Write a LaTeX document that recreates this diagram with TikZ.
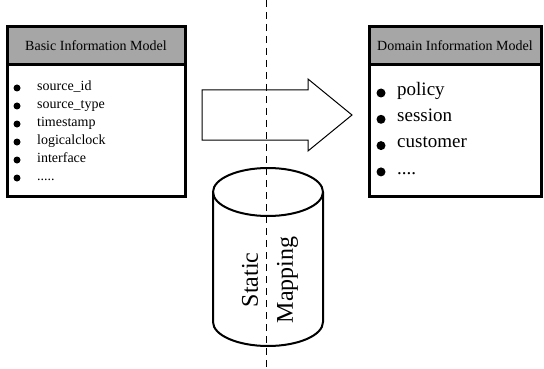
\documentclass[tikz,border=0pt]{standalone}
\usepackage{fontspec}
\setmainfont{Liberation Serif}
\usetikzlibrary{positioning}
\newcommand{\fivedots}{.....}
\newcommand{\fourdots}{....}

\begin{document}
\begin{tikzpicture}[x=1pt, y=-1pt,
    modelhead/.style={draw, line width=3pt, fill=black!35, inner sep=0pt, outer sep=0pt,
      minimum height=38pt, font=\fontsize{14}{16}\selectfont},
    modelbody/.style={draw, line width=3pt, fill=white, inner sep=0pt, outer sep=0pt,
      minimum height=131pt},
    smallitem/.style={anchor=mid west, inner sep=0pt, font=\fontsize{14}{16}\selectfont},
    bigitem/.style={anchor=mid west, inner sep=0pt, font=\fontsize{19}{22}\selectfont}]
    \useasboundingbox (0,0) rectangle (544,369);

    % dashed divider
    \coordinate (divtop) at (266,0);
    \coordinate (divbot) at (266,369);
    \draw[dash pattern=on 7pt off 5pt, line width=0.8pt] (divtop) -- (divbot);

    % Basic model
    \node[modelhead, minimum width=178pt, anchor=north west] (basichead) at (7,27) {Basic Information Model};
    \node[modelbody, minimum width=178pt, below=0pt of basichead] (basicbody) {};
    \foreach \txt [count=\i] in {source\_id, source\_type, timestamp, logicalclock, interface, \fivedots} {
        \fill (17,70+18*\i) circle (3.5pt);
        \node[smallitem] (basic\i) at (37,70+18*\i) {\txt};
    }

    % Domain model
    \node[modelhead, minimum width=172pt, anchor=north west] (domainhead) at (369,27) {Domain Information Model};
    \node[modelbody, minimum width=172pt, below=0pt of domainhead] (domainbody) {};
    \foreach \txt [count=\i] in {policy, session, customer, \fourdots} {
        \fill (381,66.7+26.3*\i) circle (4.5pt);
        \node[bigitem] (domain\i) at (397,66.7+26.3*\i) {\txt};
    }

    % big arrow
    \draw[line width=1pt, line join=miter] (202,90) -- (308,90) -- (308,79) -- (352,115)
        -- (308,151) -- (308,140) -- (202,140) -- cycle;

    % Cylinder
    \draw[line width=2pt] (213,192) -- (213,322) arc[start angle=180, end angle=360, x radius=55pt, y radius=24pt] -- (323,192);
    \draw[line width=2pt] (268,192) ellipse [x radius=55pt, y radius=24pt];
    \node[rotate=90, align=center, font=\fontsize{24}{35}\selectfont] (mapping) at (270,280) {Static\\Mapping};
\end{tikzpicture}
\end{document}
